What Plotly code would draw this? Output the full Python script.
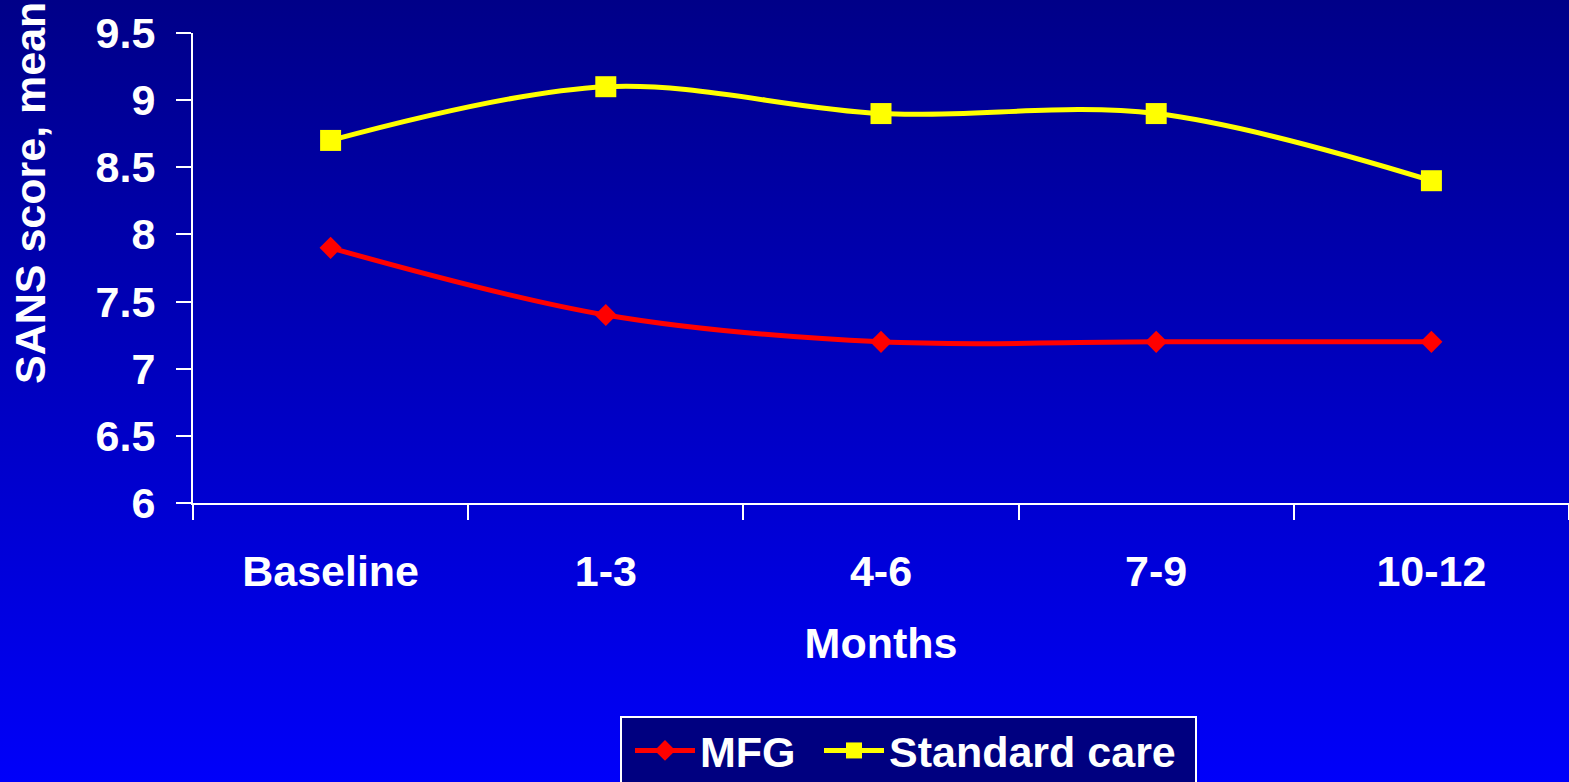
import base64
import plotly.graph_objects as go

# Follow-up periods and mean SANS scores per group
periods = ["Baseline", "1-3", "4-6", "7-9", "10-12"]
mfg = [7.9, 7.4, 7.2, 7.2, 7.2]
standard_care = [8.7, 9.1, 8.9, 8.9, 8.4]
y_ticks = [6, 6.5, 7, 7.5, 8, 8.5, 9, 9.5]
y_tick_text = ["6", "6.5", "7", "7.5", "8", "8.5", "9", "9.5"]

W, H = 1569, 782
ML, MR, MT, MB = 193, 0, 33, 279
PW, PH = W - ML - MR, H - MT - MB

FONT = "Liberation Sans, Arial, sans-serif"
FS = 43


def px_x(x):
    return (x - ML) / PW


def px_y(y):
    return (MT + PH - y) / PH


# Vertical navy-to-blue gradient used as the slide background
svg = (
    f'<svg xmlns="http://www.w3.org/2000/svg" width="{W}" height="{H}">'
    '<defs><linearGradient id="g" x1="0" y1="0" x2="0" y2="1">'
    '<stop offset="0" stop-color="#000088"/>'
    '<stop offset="1" stop-color="#0000FA"/>'
    '</linearGradient></defs>'
    f'<rect width="{W}" height="{H}" fill="url(#g)"/></svg>'
)
bg_uri = "data:image/svg+xml;base64," + base64.b64encode(svg.encode()).decode()

font = dict(size=FS, color="white", family=FONT, weight="bold")

fig = go.Figure()
fig.add_trace(go.Scatter(
    x=periods, y=mfg, name="MFG", mode="lines+markers",
    line=dict(color="#FF0000", width=5, shape="spline"),
    marker=dict(symbol="diamond", size=17, color="#FF0000"),
    legend="legend", showlegend=True,
))
fig.add_trace(go.Scatter(
    x=periods, y=standard_care, name="Standard care", mode="lines+markers",
    line=dict(color="#FFFF00", width=5, shape="spline"),
    marker=dict(symbol="square", size=21, color="#FFFF00"),
    legend="legend2", showlegend=True,
))

legend_common = dict(
    orientation="h", xanchor="left", yanchor="top", y=px_y(716),
    bgcolor="rgba(0,0,0,0)", borderwidth=0, itemwidth=60, font=font,
    visible=True,
)

fig.update_layout(
    width=W, height=H,
    showlegend=True,
    margin=dict(l=ML, r=MR, t=MT, b=MB, pad=0, autoexpand=False),
    paper_bgcolor="rgba(0,0,0,0)",
    plot_bgcolor="rgba(0,0,0,0)",
    font=font,
    images=[dict(
        source=bg_uri, xref="paper", yref="paper",
        x=-ML / PW, y=1 + MT / PH, sizex=W / PW, sizey=H / PH,
        xanchor="left", yanchor="top", sizing="stretch", layer="below",
    )],
    # legend frame
    shapes=[dict(
        type="rect", xref="paper", yref="paper",
        x0=px_x(621), x1=px_x(1196), y0=px_y(790), y1=px_y(717),
        fillcolor="#000080", line=dict(color="white", width=2), layer="above",
    )],
    xaxis=dict(
        type="category", range=[-0.5, 4.5], tickson="boundaries",
        showgrid=False, zeroline=False,
        showline=True, linecolor="white", linewidth=2,
        ticks="outside", ticklen=15, tickwidth=2, tickcolor="white",
        ticklabelstandoff=29,
        tickfont=font,
        title=dict(text="Months", standoff=34, font=font),
    ),
    yaxis=dict(
        range=[6, 9.5], tickmode="array", tickvals=y_ticks, ticktext=y_tick_text,
        showgrid=False, zeroline=False,
        showline=True, linecolor="white", linewidth=2,
        ticks="outside", ticklen=15, tickwidth=2, tickcolor="white",
        ticklabelstandoff=12,
        tickfont=font,
    ),
    legend=dict(legend_common, x=px_x(630)),
    legend2=dict(legend_common, x=px_x(819)),
    annotations=[dict(
        text="SANS score, mean", textangle=-90, showarrow=False,
        xref="paper", yref="paper",
        x=px_x(30), y=px_y(193),
        xanchor="center", yanchor="middle",
        font=font,
    )],
)

fig.write_html("out.html")
